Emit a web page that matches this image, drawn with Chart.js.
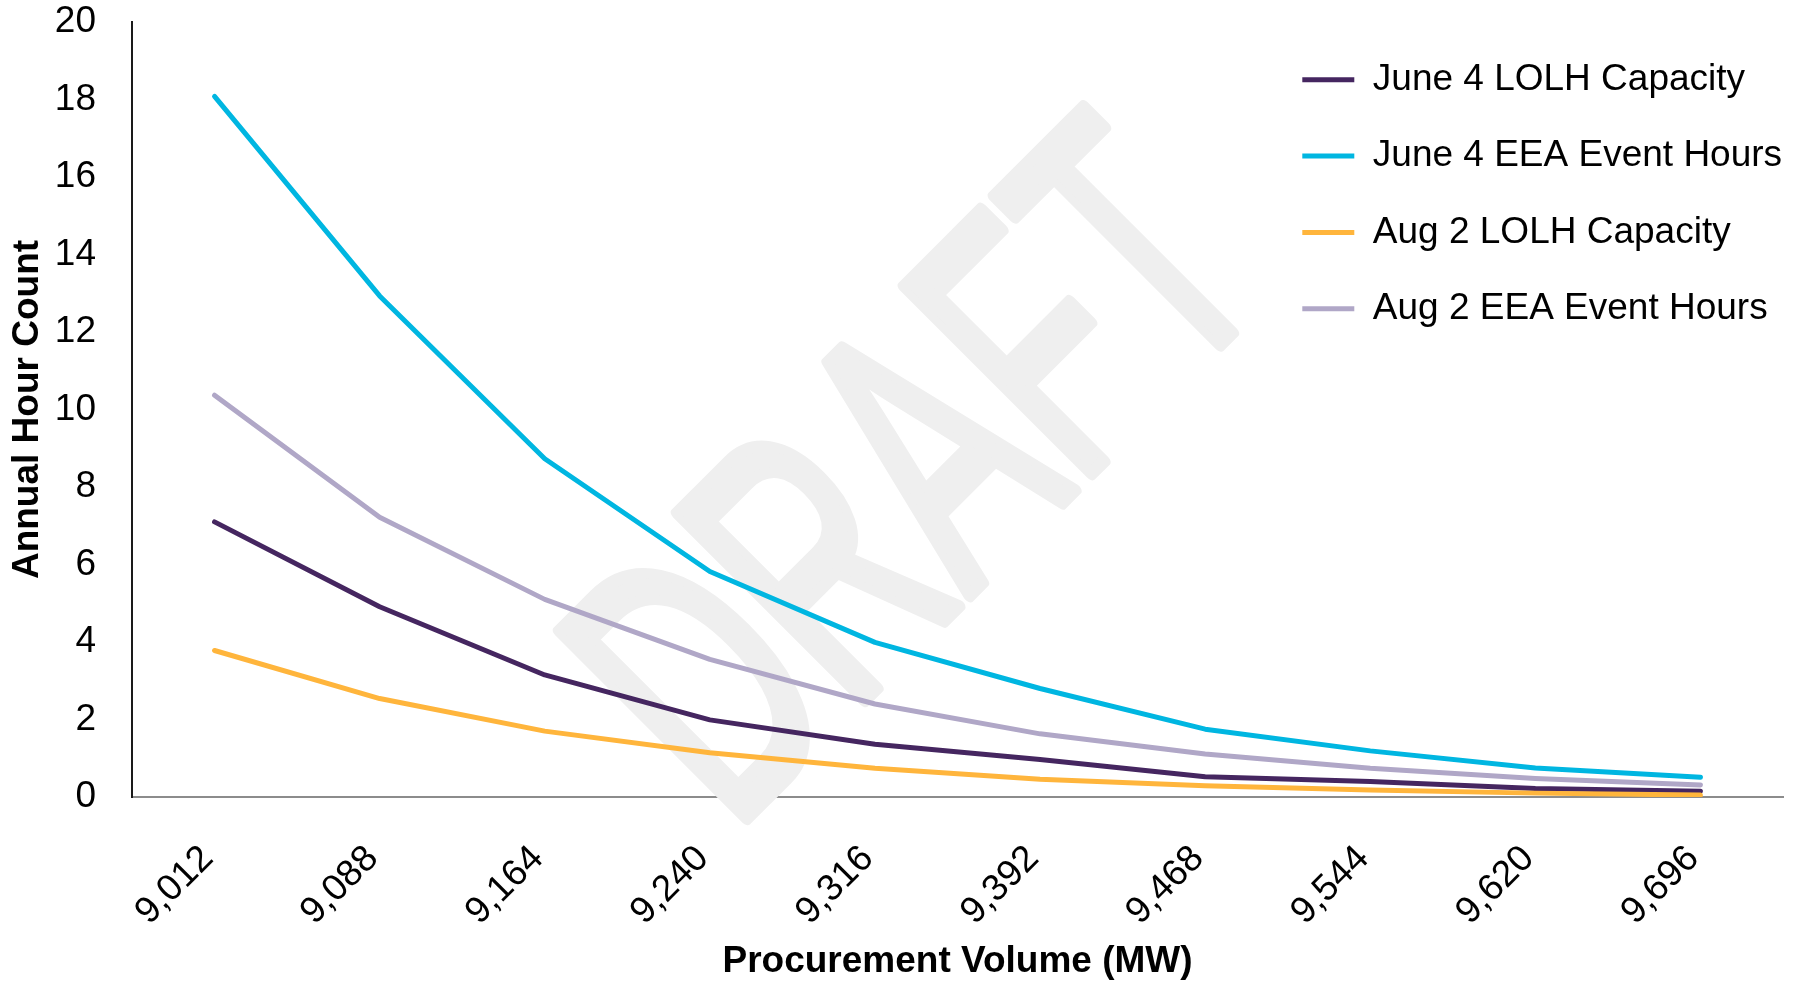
<!DOCTYPE html>
<html>
<head>
<meta charset="utf-8">
<script src="https://cdn.jsdelivr.net/npm/chart.js@4.4.1/dist/chart.umd.min.js"></script>
<style>
  html, body { margin: 0; padding: 0; background: #fff; }
  #wrap { width: 1798px; height: 982px; }
</style>
</head>
<body>
<div id="wrap"><canvas id="grafico" width="1798" height="982"></canvas></div>
<script>
// Volumen de compra (MW) en el eje X
const volumenes = ['9,012', '9,088', '9,164', '9,240', '9,316', '9,392', '9,468', '9,544', '9,620', '9,696'];

// Horas anuales por serie
const junio4Lolh = [7.10, 4.91, 3.15, 1.99, 1.36, 0.97, 0.52, 0.40, 0.22, 0.15];
const junio4Eea = [18.08, 12.93, 8.73, 5.82, 3.99, 2.80, 1.75, 1.19, 0.75, 0.51];
const agosto2Lolh = [3.78, 2.54, 1.70, 1.14, 0.74, 0.46, 0.29, 0.18, 0.10, 0.05];
const agosto2Eea = [10.37, 7.22, 5.10, 3.55, 2.40, 1.63, 1.11, 0.74, 0.48, 0.31];

const nombres = ['June 4 LOLH Capacity', 'June 4 EEA Event Hours', 'Aug 2 LOLH Capacity', 'Aug 2 EEA Event Hours'];
const colores = ['#452660', '#00B6E1', '#FFB53C', '#B0A7C7'];

const fuente = '"Liberation Sans", Arial, sans-serif';

// marca de agua "DRAFT" detras de las lineas
const marcaAgua = {
  id: 'marcaAgua',
  beforeDatasetsDraw(chart) {
    const ctx = chart.ctx;
    ctx.save();
    ctx.translate(929, 486);
    ctx.rotate(-45 * Math.PI / 180);
    ctx.scale(0.6, 1);
    ctx.font = '385px ' + fuente;
    ctx.fillStyle = '#efefef';
    ctx.strokeStyle = '#efefef';
    ctx.lineWidth = 13;
    ctx.lineJoin = 'round';
    ctx.textAlign = 'center';
    ctx.textBaseline = 'middle';
    ctx.fillText('DRAFT', 0, 0);
    ctx.strokeText('DRAFT', 0, 0);
    ctx.restore();
  }
};

// mover la leyenda dentro del area del grafico, arriba a la derecha
const leyendaPos = {
  id: 'leyendaPos',
  afterLayout(chart) {
    const lg = chart.legend;
    const w = lg.width, h = lg.height;
    lg.left = 1263;
    lg.right = lg.left + w;
    lg.top = 22;
    lg.bottom = lg.top + h;
  }
};

const series = [junio4Lolh, junio4Eea, agosto2Lolh, agosto2Eea];

new Chart(document.getElementById('grafico').getContext('2d'), {
  type: 'line',
  data: {
    labels: volumenes,
    datasets: series.map((datos, i) => ({
      label: nombres[i],
      data: datos,
      borderColor: colores[i],
      backgroundColor: colores[i],
      borderWidth: 5,
      borderCapStyle: 'round',
      borderJoinStyle: 'round',
      pointRadius: 0,
      pointHoverRadius: 0,
      pointStyle: 'line',
      tension: 0,
      fill: false,
      order: series.length - 1 - i
    }))
  },
  options: {
    responsive: false,
    animation: false,
    layout: { padding: { top: 22, right: 15, bottom: 0, left: 0 } },
    plugins: {
      tooltip: { enabled: false },
      legend: {
        position: 'chartArea',
        align: 'start',
        reverse: true,
        labels: {
          usePointStyle: true,
          pointStyleWidth: 52,
          boxHeight: 37,
          padding: 39.3,
          color: '#000',
          font: { family: fuente, size: 37 }
        }
      }
    },
    scales: {
      x: {
        offset: true,
        grid: { display: false, drawTicks: false },
        border: { display: true, color: '#8c8c8c', width: 2 },
        ticks: {
          color: '#000',
          font: { family: fuente, size: 37 },
          minRotation: 45,
          maxRotation: 45,
          padding: 40,
          labelOffset: -7
        },
        title: {
          display: true,
          text: 'Procurement Volume (MW)',
          color: '#000',
          font: { family: fuente, size: 37, weight: 'bold' },
          padding: { top: 0, bottom: -2 }
        },
        afterFit(scale) {
          scale.height = 185;
          scale.paddingLeft = 0;
          scale.paddingRight = 0;
        }
      },
      y: {
        min: 0,
        max: 20,
        grid: { display: false, drawTicks: false },
        border: { display: true, color: '#1a1a1a', width: 2 },
        ticks: {
          stepSize: 2,
          color: '#000',
          font: { family: fuente, size: 37 },
          padding: 36
        },
        title: {
          display: true,
          text: 'Annual Hour Count',
          color: '#000',
          font: { family: fuente, size: 37, weight: 'bold' },
          padding: { top: 6, bottom: 0 }
        },
        afterFit(scale) {
          scale.width = 132;
          scale.paddingTop = 0;
          scale.paddingBottom = 0;
        }
      }
    }
  },
  plugins: [marcaAgua, leyendaPos]
});
</script>
</body>
</html>
